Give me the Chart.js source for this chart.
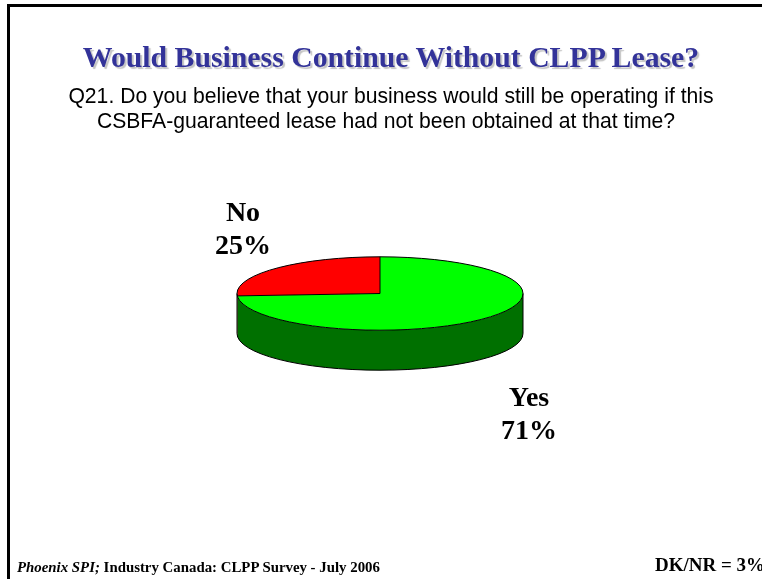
<!DOCTYPE html>
<html>
<head>
<meta charset="utf-8">
<title>Would Business Continue Without CLPP Lease?</title>
<script src="https://cdn.jsdelivr.net/npm/chart.js@4/dist/chart.umd.min.js"></script>
<style>
  html, body { margin: 0; padding: 0; background: #fff; }
  #slide { position: relative; width: 762px; height: 579px; overflow: hidden; background: #fff; }
  #frame { position: absolute; left: 7px; top: 4px; width: 800px; height: 640px; border: 3px solid #000; }
  #pie { position: absolute; left: 0; top: 0; }
  .txt { position: absolute; white-space: nowrap; color: #000; }
  #heading { left: 0; width: 782px; top: 40px; text-align: center; font: bold 29.75px/34px "Liberation Serif", serif;
    color: #333399; text-shadow: 2px 2px 1px #c4c4c4; }
  .question { left: 0; text-align: center; font: 21.15px/25px "Liberation Sans", sans-serif; }
  .slice { text-align: center; font: bold 28px/33px "Liberation Serif", serif; transform: translateX(-50%); }
  #source { left: 17px; top: 559px; font: bold 14.85px/16px "Liberation Serif", serif; }
  #source i { font-weight: bold; }
  #dknr { left: 655px; top: 555px; font: bold 19px/20px "Liberation Serif", serif; }
</style>
</head>
<body>
<div id="slide">
  <div id="frame"></div>
  <canvas id="pie" width="762" height="579"></canvas>
  <div class="txt" id="heading">Would Business Continue Without CLPP Lease?</div>
  <div class="txt question" style="width:782px;top:82.5px">Q21. Do you believe that your business would still be operating if this</div>
  <div class="txt question" style="width:772px;top:107.5px">CSBFA-guaranteed lease had not been obtained at that time?</div>
  <div class="txt slice" id="labelYes" style="left:529px;top:380px"></div>
  <div class="txt slice" id="labelNo" style="left:243px;top:195px"></div>
  <div class="txt" id="source"><i>Phoenix SPI;</i> Industry Canada: CLPP Survey - July 2006</div>
  <div class="txt" id="dknr"></div>
</div>
<script>
const categories = ['Yes', 'No'];
const shares = [71, 25];
const dkNrShare = 3;

const topColors = ['#00ff00', '#ff0000'];
const sideColors = ['#007000', '#800000'];

// tilt of the disc and height of its rim
const squash = 36.7 / 143;
const rimDepth = 40;

// fill in the text that comes from the data
document.getElementById('labelYes').innerHTML = categories[0] + '<br>' + shares[0] + '%';
document.getElementById('labelNo').innerHTML = categories[1] + '<br>' + shares[1] + '%';
document.getElementById('dknr').textContent = 'DK/NR = ' + dkNrShare + '%';

function squashAround(ctx, cy) {
  ctx.translate(0, cy);
  ctx.scale(1, squash);
  ctx.translate(0, -cy);
}

// Chart.js only does flat pies, so squash the disc and add the rim by hand
const tiltedDisc = {
  id: 'tiltedDisc',
  beforeDatasetsDraw(chart) {
    const ctx = chart.ctx;
    const arcs = chart.getDatasetMeta(0).data;
    arcs.forEach((arc, i) => {
      // only the part of the rim facing the viewer shows
      const from = Math.max(arc.startAngle, 0);
      const to = Math.min(arc.endAngle, Math.PI);
      if (to <= from) return;
      ctx.save();
      ctx.beginPath();
      ctx.save();
      squashAround(ctx, arc.y);
      ctx.arc(arc.x, arc.y, arc.outerRadius, from, to);
      ctx.restore();
      ctx.save();
      ctx.translate(0, rimDepth);
      squashAround(ctx, arc.y);
      ctx.arc(arc.x, arc.y, arc.outerRadius, to, from, true);
      ctx.restore();
      ctx.closePath();
      ctx.fillStyle = sideColors[i];
      ctx.fill();
      ctx.restore();
    });
    ctx.save();
    squashAround(ctx, arcs[0].y);
  },
  afterDatasetsDraw(chart) {
    const ctx = chart.ctx;
    ctx.restore();
    const arcs = chart.getDatasetMeta(0).data;
    const x = arcs[0].x, y = arcs[0].y, r = arcs[0].outerRadius;

    ctx.save();
    ctx.strokeStyle = '#000';
    ctx.lineWidth = 1;

    // outline of the top
    ctx.beginPath();
    ctx.save();
    squashAround(ctx, y);
    ctx.arc(x, y, r, 0, Math.PI * 2);
    ctx.restore();
    ctx.stroke();

    // outline of the rim
    ctx.beginPath();
    ctx.moveTo(x - r, y);
    ctx.lineTo(x - r, y + rimDepth);
    ctx.save();
    ctx.translate(0, rimDepth);
    squashAround(ctx, y);
    ctx.arc(x, y, r, Math.PI, 0, true);
    ctx.restore();
    ctx.lineTo(x + r, y);
    ctx.stroke();

    // the two radii between the slices
    arcs.forEach((arc) => {
      ctx.beginPath();
      ctx.moveTo(x, y);
      ctx.lineTo(x + r * Math.cos(arc.startAngle), y + r * squash * Math.sin(arc.startAngle));
      ctx.stroke();
    });
    ctx.restore();
  }
};

new Chart(document.getElementById('pie'), {
  type: 'pie',
  data: {
    labels: categories,
    datasets: [{
      data: shares,
      backgroundColor: topColors,
      borderWidth: 0
    }]
  },
  options: {
    responsive: false,
    animation: false,
    layout: { padding: { left: 237, right: 239, top: 150.5, bottom: 142.5 } },
    plugins: {
      legend: { display: false },
      tooltip: { enabled: false }
    }
  },
  plugins: [tiltedDisc]
});
</script>
</body>
</html>
